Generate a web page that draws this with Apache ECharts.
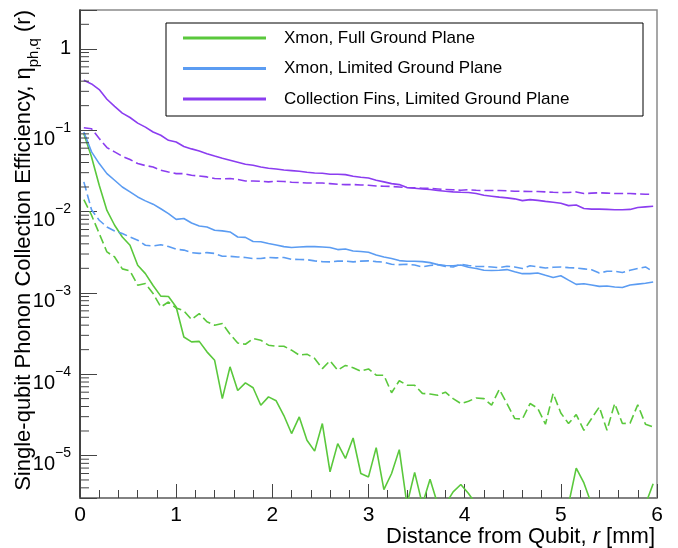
<!DOCTYPE html>
<html><head><meta charset="utf-8">
<script src="https://cdn.jsdelivr.net/npm/echarts@6/dist/echarts.min.js"></script>
<style>html,body{margin:0;padding:0;background:#fff}#c{width:678px;height:548px}</style>
</head><body><div id="c"></div>
<script>
// Bin centres (mm)
const distance = [0.04,0.12,0.2,0.28,0.36,0.44,0.52,0.6,0.68,0.76,0.84,0.92,1.0,1.08,1.16,1.24,1.32,1.4,1.48,1.56,1.64,1.72,1.8,1.88,1.96,
2.04,2.12,2.2,2.28,2.36,2.44,2.52,2.6,2.68,2.76,2.84,2.92,3.0,3.08,3.16,3.24,3.32,3.4,3.48,3.56,3.64,3.72,3.8,3.88,3.96,
4.04,4.12,4.2,4.28,4.36,4.44,4.52,4.6,4.68,4.76,4.84,4.92,5.0,5.08,5.16,5.24,5.32,5.4,5.48,5.56,5.64,5.72,5.8,5.88,5.96];

const seriesNames = ['Xmon, Full Ground Plane', 'Xmon, Limited Ground Plane', 'Collection Fins, Limited Ground Plane'];
const xTitle = 'Distance from Qubit, {it|r} [mm]';
const yTitle = 'Single-qubit Phonon Collection Efficiency, \u03b7{sub|ph,q} (r)';

// empty bins (drawn at the bottom of the frame in the original)
const Z = 2.5e-6;

const greenSolid = [0.0906,0.0468,0.021,0.0103,0.00677,0.00486,0.00384,0.00218,0.00172,0.00123,0.00091,0.00090,0.00067,0.000286,0.000249,0.000253,0.000188,0.000148,0.00005,0.000123,0.000063,0.000078,0.000068,0.0000415,0.0000525,
4.7e-5,3.1e-5,1.86e-5,2.98e-5,1.54e-5,1.13e-5,2.47e-5,6.3e-6,1.4e-5,9.2e-6,1.64e-5,6.0e-6,5.45e-6,1.25e-5,3.8e-6,6.0e-6,1.18e-5,Z,6.2e-6,Z,5.1e-6,Z,Z,3.57e-6,4.4e-6,
3.4e-6,Z,Z,Z,Z,Z,Z,Z,Z,Z,Z,Z,Z,Z,7.0e-6,4.6e-6,Z,Z,Z,Z,Z,Z,Z,Z,4.5e-6];

const greenDashed = [0.014,0.009,0.00535,0.00318,0.00276,0.00197,0.00186,0.00124,0.0013,0.00098,0.00067,0.00077,0.00065,0.0006,0.00047,0.000556,0.00044,0.0004,0.00042,0.00031,0.000242,0.000233,0.000274,0.000261,0.000227,
0.00022,0.00022,0.000197,0.000171,0.000176,0.000156,0.000117,0.000146,0.000112,0.000128,0.00012,0.000109,0.000116,9.7e-5,9.7e-5,5.9e-5,8.3e-5,7.3e-5,7.3e-5,5.8e-5,5.7e-5,5.5e-5,6.0e-5,5.0e-5,4.35e-5,
4.65e-5,5.1e-5,5.0e-5,4.15e-5,6.5e-5,4.35e-5,2.85e-5,2.8e-5,4.35e-5,3.8e-5,2.42e-5,5.8e-5,3.33e-5,2.47e-5,3.18e-5,2.04e-5,2.85e-5,3.95e-5,2.04e-5,4.35e-5,2.47e-5,2.5e-5,4.2e-5,2.42e-5,2.24e-5];

const blueSolid = [0.095,0.054,0.0388,0.0292,0.0242,0.020,0.0174,0.0151,0.0135,0.0123,0.0108,0.0094,0.0080,0.0082,0.00722,0.00663,0.00645,0.00587,0.00578,0.0056,0.00486,0.0048,0.00427,0.00424,0.00403,
0.00387,0.0037,0.0036,0.00365,0.0037,0.0037,0.00365,0.0036,0.0034,0.00346,0.00327,0.00322,0.00315,0.00292,0.00276,0.00264,0.00249,0.00244,0.00244,0.00242,0.00235,0.00222,0.00217,0.00215,0.0022,
0.00206,0.00199,0.00189,0.00188,0.00189,0.00193,0.00182,0.00172,0.00172,0.00175,0.00164,0.00154,0.00162,0.00143,0.00127,0.00129,0.00125,0.0012,0.00121,0.00118,0.00116,0.00125,0.00128,0.00131,0.00136];

const blueDashed = [0.0231,0.0105,0.0078,0.00645,0.00575,0.00535,0.00486,0.00443,0.00384,0.00376,0.0039,0.0037,0.00343,0.00335,0.00312,0.00305,0.00312,0.00305,0.00281,0.00281,0.00276,0.00272,0.00264,0.00264,0.00272,
0.00269,0.00272,0.00258,0.00257,0.00255,0.00247,0.00242,0.0024,0.00245,0.00245,0.0024,0.00245,0.00247,0.00242,0.00238,0.00224,0.00222,0.00224,0.0022,0.00208,0.00217,0.00222,0.00211,0.00208,0.00224,
0.00217,0.00211,0.00211,0.00208,0.00204,0.00212,0.00208,0.00199,0.00215,0.00208,0.00202,0.00206,0.00208,0.00204,0.00202,0.00197,0.00192,0.00175,0.00184,0.00184,0.00178,0.00189,0.00199,0.00208,0.00182];

const purpleSolid = [0.41,0.37,0.315,0.24,0.196,0.162,0.143,0.122,0.109,0.095,0.0865,0.075,0.0716,0.063,0.0588,0.0554,0.0514,0.048,0.045,0.0426,0.0403,0.038,0.037,0.0352,0.034,
0.0333,0.0324,0.0318,0.0312,0.0303,0.0297,0.0295,0.0287,0.0287,0.0284,0.0271,0.0263,0.0258,0.0242,0.0231,0.022,0.0214,0.0197,0.0193,0.0189,0.0186,0.0181,0.0177,0.0174,0.0172,
0.0171,0.0166,0.0158,0.0154,0.0150,0.0147,0.0143,0.0136,0.0140,0.0137,0.0133,0.0130,0.0126,0.0118,0.0120,0.0109,0.0107,0.0107,0.0106,0.0105,0.0105,0.0106,0.0112,0.0114,0.0116];

const purpleDashed = [0.107,0.104,0.079,0.061,0.054,0.0477,0.0435,0.0388,0.0367,0.0352,0.0321,0.0306,0.0292,0.0292,0.0279,0.0273,0.0266,0.0254,0.0252,0.0254,0.0247,0.0237,0.0237,0.0235,0.0231,
0.0235,0.0234,0.0229,0.0227,0.0224,0.0224,0.0224,0.022,0.0216,0.0214,0.0214,0.0212,0.021,0.0206,0.0204,0.0203,0.020,0.0197,0.0195,0.0193,0.0192,0.0189,0.0186,0.0185,0.0182,
0.0185,0.0182,0.0181,0.0181,0.0181,0.018,0.0177,0.0177,0.0176,0.0176,0.0174,0.0172,0.0171,0.0171,0.0174,0.0166,0.0168,0.0170,0.0168,0.0166,0.0166,0.0166,0.0164,0.0163,0.0162];

// axis ticks
const xTickLabels = ['0','1','2','3','4','5','6'];
const yMin = 3e-6, yMax = 3;
const yMinorMantissas = [2,3,4,5,6,7,8,9];
const yMinorExponents = [-6,-5,-4,-3,-2,-1,0];

const GREEN = '#5ac83c', BLUE = '#5b9cf2', PURPLE = '#8b3df0';
const FONT = 'Liberation Sans, Arial, Helvetica, sans-serif';

const yMinorTicks = [];
yMinorExponents.forEach(e => yMinorMantissas.forEach(m => {
  const v = m * Math.pow(10, e);
  if (v > yMin * 1.01 && v < yMax * 0.99) yMinorTicks.push(v);
}));

const pair = arr => distance.map((d, i) => [d, arr[i]]);

function lineSeries(name, arr, color, dashed) {
  return {
    type: 'line', name: name, data: pair(arr), symbol: 'none', clip: true,
    lineStyle: { color: color, width: 1.6, type: dashed ? [9, 4] : 'solid' },
    itemStyle: { color: color }, z: 2, animation: false
  };
}

const chart = echarts.init(document.getElementById('c'), null, { renderer: 'canvas' });
chart.setOption({
  animation: false,
  backgroundColor: '#fff',
  textStyle: { fontFamily: FONT, color: '#000' },
  grid: { left: 80, top: 10, width: 577, height: 488, show: true, borderColor: '#8a8a8a', borderWidth: 1.5,
    backgroundColor: 'transparent', containLabel: false, outerBoundsMode: 'none' },
  legend: {
    data: seriesNames,
    orient: 'vertical', left: 166, top: 23,
    backgroundColor: '#fff', borderColor: '#000', borderWidth: 1, borderRadius: 0,
    padding: [5, 0, 7, 17],
    icon: 'rect', itemWidth: 83, itemHeight: 3, itemGap: 10.5,
    textStyle: { fontFamily: FONT, fontSize: 17, color: '#000', lineHeight: 20, width: 359, padding: [0, 0, 0, 13] },
    selectedMode: false
  },
  graphic: [
    { type: 'text', x: 655, y: 537, silent: true,
      style: { text: xTitle, fontSize: 22, fontFamily: FONT, fill: '#000', align: 'right', verticalAlign: 'middle',
        rich: { it: { fontSize: 22, fontStyle: 'italic', fontFamily: FONT } } } },
    { type: 'text', x: 24, y: 10, rotation: Math.PI / 2, silent: true,
      style: { text: yTitle, fontSize: 22, fontFamily: FONT, fill: '#000', align: 'right', verticalAlign: 'middle',
        rich: { sub: { fontSize: 15, lineHeight: 15, verticalAlign: 'top', padding: [13, 0, 0, 0], fontFamily: FONT } } } }
  ],
  xAxis: {
    type: 'value', min: 0, max: 6, interval: 1,
    axisLine: { show: true, lineStyle: { color: '#777', width: 1.5 } },
    axisTick: { show: true, inside: true, length: 14, lineStyle: { color: '#444', width: 1 } },
    minorTick: { show: true, splitNumber: 5, length: 8, lineStyle: { color: '#444', width: 1 } },
    splitLine: { show: false }, minorSplitLine: { show: false },
    axisLabel: { fontSize: 21, color: '#000', margin: 7, fontFamily: FONT, formatter: v => xTickLabels[Math.round(v)] }
  },
  yAxis: {
    type: 'log', logBase: 10, min: yMin, max: yMax,
    axisLine: { show: true, lineStyle: { color: '#222', width: 1.5 } },
    axisTick: { show: true, inside: true, length: 17, lineStyle: { color: '#444', width: 1 } },
    splitLine: { show: false },
    axisLabel: {
      color: '#000', margin: 9, fontFamily: FONT, fontSize: 20,
      formatter: v => {
        const l = Math.log10(v), e = Math.round(l);
        if (Math.abs(l - e) > 1e-6) return '';
        if (e === 0) return '{one|1}';
        return '{m|10}{s|\u2212' + (-e) + '}';
      },
      rich: {
        one: { fontSize: 20, lineHeight: 20, fontFamily: FONT },
        m: { fontSize: 20, lineHeight: 20, verticalAlign: 'top', padding: [9, 0, 0, 0], fontFamily: FONT },
        s: { fontSize: 14, lineHeight: 14, verticalAlign: 'top', padding: [1, 0, 0, 0], fontFamily: FONT }
      }
    }
  },
  series: [
    lineSeries(seriesNames[0], greenSolid, GREEN, false),
    lineSeries(seriesNames[0] + ' (dashed)', greenDashed, GREEN, true),
    lineSeries(seriesNames[1], blueSolid, BLUE, false),
    lineSeries(seriesNames[1] + ' (dashed)', blueDashed, BLUE, true),
    lineSeries(seriesNames[2], purpleSolid, PURPLE, false),
    lineSeries(seriesNames[2] + ' (dashed)', purpleDashed, PURPLE, true),
    {
      type: 'custom', name: 'yMinorTicks', silent: true, clip: false, z: 3,
      data: yMinorTicks.map(v => [0, v]),
      renderItem: (params, api) => {
        const p = api.coord([api.value(0), api.value(1)]);
        return { type: 'line', shape: { x1: p[0], y1: p[1], x2: p[0] + 9, y2: p[1] }, style: { stroke: '#444', lineWidth: 1 } };
      }
    }
  ]
});
</script>
</body></html>
